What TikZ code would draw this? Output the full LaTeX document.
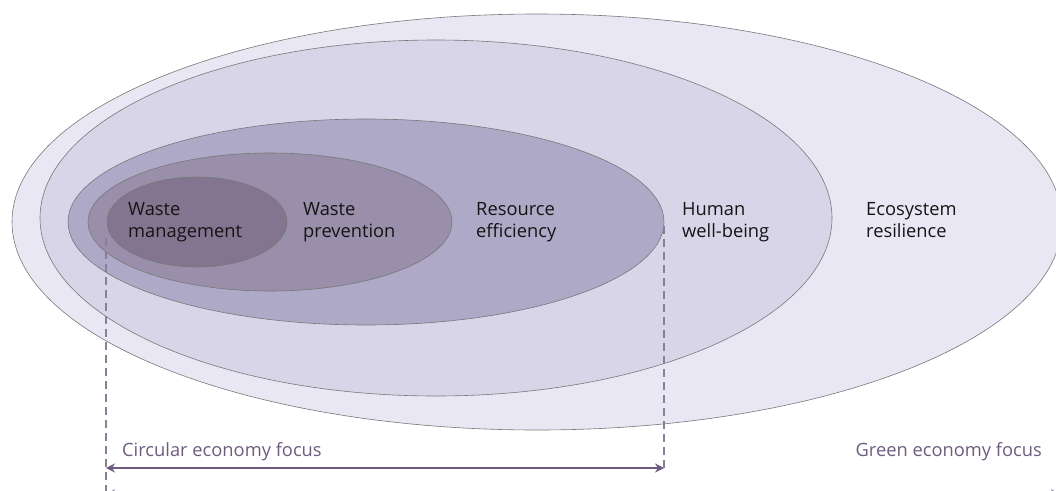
\documentclass[tikz,border=0pt]{standalone}
\usepackage{fontspec}
\setmainfont{Open Sans}
\usetikzlibrary{shapes.geometric,arrows.meta}
\definecolor{cA}{RGB}{233,231,243}
\definecolor{cB}{RGB}{216,213,233}
\definecolor{cC}{RGB}{174,169,198}
\definecolor{cD}{RGB}{153,143,170}
\definecolor{cE}{RGB}{131,116,144}
\definecolor{edge}{RGB}{120,120,120}
\definecolor{focus}{RGB}{110,92,126}
\definecolor{dash}{RGB}{140,126,152}
\definecolor{lab}{RGB}{20,20,20}
\newcommand{\twolines}[2]{\vtop{\baselineskip=22pt\hbox{#1}\hbox{#2}}}
\tikzset{
  ring/.style={ellipse, draw=edge, line width=0.6pt, inner sep=0pt},
  lbl/.style={anchor=base west, inner sep=0pt, text=lab, font=\fontsize{18.3}{22}\selectfont},
  flbl/.style={inner sep=0pt, text=focus, font=\fontsize{18.3}{22}\selectfont},
  guide/.style={draw=dash, line width=1.2pt, dash pattern=on 8pt off 5pt},
  span/.style={draw=focus, line width=2pt, {Stealth[length=9pt,width=9pt]}-{Stealth[length=9pt,width=9pt]}}
}
\begin{document}
\begin{tikzpicture}[x=1pt,y=-1pt]
\useasboundingbox (0,0) rectangle (1056,490);
\fill[white] (0,0) rectangle (1056,490);
\node[ring, fill=cA, minimum width=1050pt, minimum height=416pt] (eco) at (537,222) {};
\node[ring, fill=cB, minimum width=792pt, minimum height=356pt] (hum) at (436,218) {};
\node[ring, fill=cC, minimum width=596pt, minimum height=206pt] (res) at (366,222) {};
\node[ring, fill=cD, minimum width=364pt, minimum height=138pt] (prev) at (270,222) {};
\node[ring, fill=cE, minimum width=180pt, minimum height=90pt] (mgmt) at (197,222) {};

\node[lbl] (tmgmt) at (128,215) {\twolines{Waste}{management}};
\node[lbl] (tprev) at (303,215) {\twolines{Waste}{prevention}};
\node[lbl] (tres) at (476,215) {\twolines{Resource}{efficiency}};
\node[lbl] (thum) at (682,215) {\twolines{Human}{well-being}};
\node[lbl] (teco) at (866,215) {\twolines{Ecosystem}{resilience}};

\coordinate (gl) at (106,238);
\coordinate (gr) at (664,226);
\coordinate (al) at (106,468);
\coordinate (ar) at (664,468);
\coordinate (bl) at (106,494);
\coordinate (br) at (1060,494);
\coordinate (gb) at (106,495);

\draw[guide] (gl) -- (gb);
\draw[guide] (gr) -- (ar);
\draw[span] (al) -- (ar);
\draw[span] (bl) -- (br);

\node[flbl, anchor=base west] (cef) at (122,456) {Circular economy focus};
\node[flbl, anchor=base east] (gef) at (1042,456) {Green economy focus};
\end{tikzpicture}
\end{document}
